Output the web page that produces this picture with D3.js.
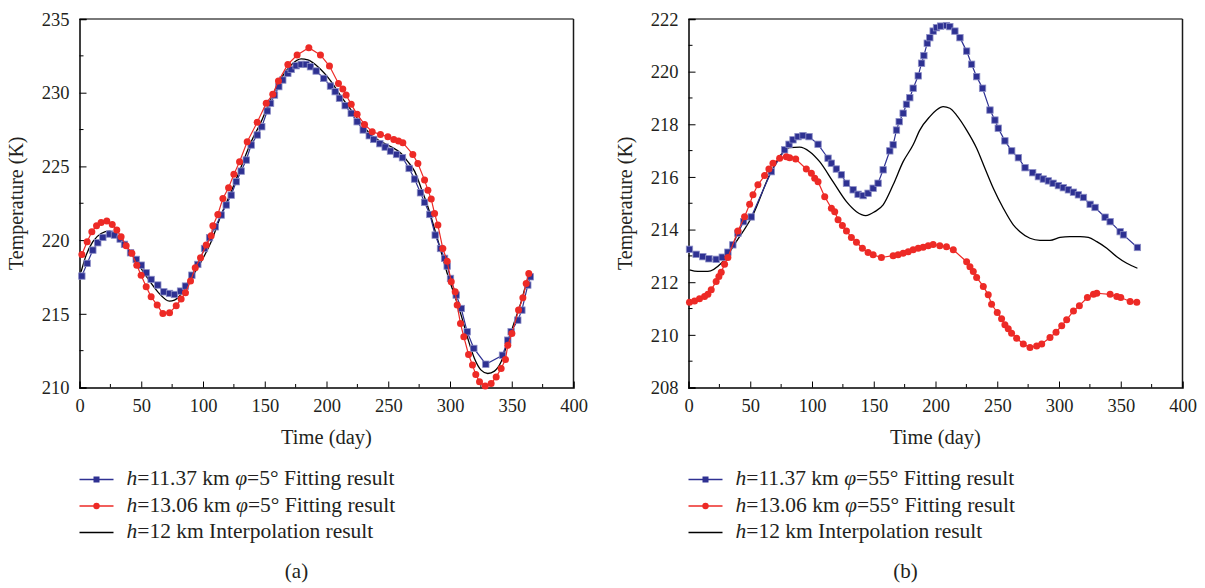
<!DOCTYPE html>
<html>
<head>
<meta charset="utf-8">
<script src="https://cdn.jsdelivr.net/npm/d3@7"></script>
<style>
  body { margin: 0; background: #fff; }
</style>
</head>
<body>
<svg id="chart" width="1205" height="588" font-family="'Liberation Serif', 'Times New Roman', serif"></svg>
<script>
// panel (a): phi = 5 deg, [day, K]
var aBlue = [[1.9,217.56],[6.2,218.42],[10.8,219.32],[14.8,219.82],[18.9,220.18],[24.3,220.41],[28.3,220.34],[32.9,220.07],[36.4,219.71],[41.3,219.14],[45.9,218.69],[50.0,218.30],[54.0,217.78],[58.0,217.33],[63.4,216.95],[68.3,216.49],[72.9,216.38],[76.9,216.31],[81.8,216.54],[85.8,216.88],[91.0,217.62],[95.8,218.35],[101.2,219.43],[105.3,220.16],[109.9,220.90],[114.7,221.70],[118.8,222.38],[122.8,223.05],[126.9,223.96],[130.9,224.68],[135.0,225.43],[139.0,226.45],[143.9,227.13],[147.6,227.69],[152.0,228.76],[154.7,229.28],[157.9,229.84],[161.4,230.41],[164.6,230.86],[168.7,231.31],[171.4,231.58],[175.4,231.83],[179.5,231.92],[183.5,231.92],[187.0,231.76],[191.6,231.47],[197.8,230.97],[203.2,230.45],[207.0,230.07],[210.5,229.62],[215.1,229.12],[220.0,228.60],[224.8,228.03],[229.7,227.47],[234.6,227.08],[238.3,226.83],[243.2,226.54],[247.5,226.31],[251.8,226.04],[256.7,225.81],[261.5,225.59],[266.9,224.86],[271.3,224.14],[276.1,223.21],[279.4,222.56],[283.7,221.74],[288.0,220.34],[292.3,219.43],[295.6,218.76],[297.7,218.24],[300.4,217.40],[305.0,216.27],[309.1,215.36],[313.9,213.78],[319.3,212.65],[329.0,211.58],[342.5,212.19],[346.8,213.21],[349.5,213.78],[354.9,214.57],[358.2,215.25],[363.0,216.95],[365.0,217.51]];
var aRed = [[1.9,219.03],[6.2,219.89],[10.0,220.57],[13.8,220.97],[17.5,221.20],[22.1,221.29],[26.5,221.06],[30.2,220.68],[33.7,220.23],[37.8,219.62],[42.4,219.10],[46.4,218.30],[49.9,217.62],[54.0,216.83],[58.0,216.15],[62.9,215.59],[67.5,215.02],[72.9,215.07],[78.3,215.54],[82.3,216.00],[85.8,216.43],[89.9,217.22],[93.7,218.12],[98.0,218.80],[102.6,219.66],[106.6,220.29],[108.0,220.97],[112.0,221.74],[116.1,222.83],[120.7,223.55],[125.0,224.46],[129.6,225.32],[135.8,226.67],[143.9,227.99],[151.2,229.28],[156.5,229.89],[161.1,230.79],[168.7,231.92],[176.2,232.56],[185.7,233.05],[195.1,232.56],[202.4,231.81],[209.7,230.63],[213.2,230.25],[215.9,229.84],[220.0,229.21],[224.8,228.53],[230.8,227.85],[237.0,227.35],[243.7,227.17],[249.7,227.01],[254.5,226.83],[258.3,226.72],[261.8,226.61],[269.9,225.81],[274.0,225.20],[279.4,224.07],[282.1,223.39],[284.8,222.78],[287.5,221.81],[290.2,221.02],[294.2,219.43],[297.7,218.57],[301.0,217.17],[304.2,216.49],[305.8,215.59],[308.5,214.34],[311.2,213.44],[315.0,212.24],[318.2,211.52],[320.9,210.88],[323.9,210.39],[328.5,210.11],[333.3,210.27],[337.4,210.72],[341.4,211.29],[344.9,211.90],[346.8,212.87],[350.1,213.67],[355.5,215.25],[359.0,216.09],[361.7,217.06],[363.8,217.74]];
var aBlack = [[1.3,217.85],[5.4,218.98],[10.8,219.89],[17.5,220.45],[24.3,220.61],[31.0,220.23],[39.1,219.43],[47.2,218.42],[55.3,217.40],[63.4,216.49],[72.9,215.86],[76.9,215.93],[83.7,216.49],[90.4,217.40],[98.5,218.53],[106.6,219.89],[114.7,221.70],[122.8,223.28],[130.9,224.98],[139.0,226.67],[147.1,228.03],[155.2,229.62],[163.3,230.97],[171.4,231.88],[179.5,232.29],[184.9,232.22],[193.0,231.76],[203.8,230.75],[211.9,229.73],[220.0,228.82],[228.1,227.92],[236.2,227.13],[244.3,226.67],[252.4,226.33],[260.5,225.88],[265.9,225.32],[271.3,224.68],[276.7,223.51],[282.1,222.26],[287.4,220.79],[292.8,219.21],[298.2,217.62],[303.6,216.27],[309.0,214.91],[314.4,213.33],[319.8,211.97],[325.2,211.18],[330.6,210.95],[336.0,211.11],[341.4,211.74],[346.8,213.10],[352.2,214.46],[357.6,215.81],[363.0,217.40],[365.2,217.85]];

// panel (b): phi = 55 deg
var bBlue = [[0.8,213.25],[6.2,213.06],[11.6,212.97],[16.5,212.89],[22.4,212.87],[27.3,212.95],[31.9,213.14],[35.9,213.42],[40.0,213.86],[44.6,214.30],[50.8,214.48],[67.0,216.20],[77.8,217.03],[81.4,217.24],[84.6,217.41],[88.7,217.53],[92.7,217.57],[97.6,217.53],[104.9,217.24],[113.0,216.71],[115.7,216.52],[119.7,216.30],[123.8,216.08],[127.9,215.76],[133.3,215.51],[137.3,215.34],[141.4,215.29],[145.4,215.38],[149.5,215.57],[153.5,215.76],[157.6,216.27],[163.0,216.99],[165.7,217.22],[168.4,217.78],[170.6,218.10],[173.8,218.42],[176.5,218.76],[179.2,219.01],[181.9,219.37],[186.0,219.84],[188.7,220.32],[190.6,220.61],[193.3,221.08],[195.4,221.29],[198.1,221.54],[200.8,221.67],[204.1,221.73],[208.9,221.75],[211.6,221.71],[215.7,221.54],[219.8,221.29],[225.2,220.78],[229.2,220.28],[233.3,219.81],[238.1,219.37],[244.1,218.54],[248.1,218.16],[250.8,217.85],[256.2,217.37],[261.7,216.99],[267.1,216.73],[272.5,216.35],[278.7,216.16],[283.3,216.01],[287.3,215.92],[291.4,215.85],[295.2,215.76],[299.5,215.67],[303.5,215.59],[307.6,215.51],[311.7,215.42],[315.7,215.32],[319.8,215.22],[325.2,214.96],[329.2,214.84],[337.3,214.47],[341.4,214.30],[349.5,213.92],[352.2,213.80],[363.5,213.32]];
var bRed = [[0.8,211.24],[4.9,211.29],[8.9,211.37],[13.0,211.46],[15.7,211.54],[18.4,211.71],[22.4,212.03],[24.6,212.22],[26.5,212.38],[29.2,212.68],[31.9,212.94],[40.0,213.95],[45.4,214.49],[49.5,214.96],[52.2,215.32],[56.2,215.70],[61.6,216.05],[65.1,216.30],[68.4,216.52],[73.8,216.71],[79.2,216.77],[81.9,216.73],[86.8,216.68],[95.4,216.30],[99.5,216.14],[102.2,215.95],[104.9,215.82],[110.3,215.25],[115.7,214.81],[118.4,214.68],[121.1,214.37],[124.6,214.15],[127.9,213.95],[131.9,213.70],[136.0,213.52],[140.8,213.29],[145.4,213.13],[149.5,213.04],[156.2,212.94],[165.7,213.01],[169.7,213.04],[173.8,213.10],[177.9,213.16],[181.9,213.23],[186.0,213.29],[190.0,213.33],[194.1,213.39],[198.1,213.43],[203.5,213.39],[208.9,213.35],[214.4,213.23],[225.2,212.78],[227.9,212.59],[230.6,212.41],[233.3,212.18],[238.7,211.84],[242.7,211.52],[245.4,211.16],[250.0,210.85],[253.5,210.61],[256.2,210.38],[258.9,210.23],[261.6,210.06],[265.7,209.87],[271.1,209.65],[276.5,209.52],[281.9,209.58],[286.0,209.65],[292.7,209.90],[297.6,210.10],[302.2,210.35],[306.2,210.57],[311.7,210.91],[316.5,211.11],[323.0,211.42],[327.9,211.54],[330.6,211.58],[341.4,211.54],[346.8,211.46],[350.0,211.42],[357.6,211.27],[363.0,211.24]];
var bBlack = [[0.8,212.47],[7.6,212.41],[15.7,212.41],[26.5,212.72],[38.7,213.54],[52.2,214.56],[65.7,216.08],[76.5,216.94],[81.9,217.11],[90.0,217.13],[98.1,216.96],[106.2,216.58],[117.0,215.82],[127.9,215.06],[136.0,214.68],[143.5,214.53],[150.8,214.68],[157.6,214.94],[165.7,215.70],[173.8,216.58],[181.9,217.22],[187.3,217.78],[195.4,218.29],[200.8,218.54],[206.2,218.67],[211.6,218.61],[217.0,218.35],[225.2,217.78],[233.3,217.09],[240.0,216.33],[246.8,215.57],[254.9,214.81],[263.0,214.18],[268.4,213.92],[276.5,213.67],[284.6,213.59],[292.7,213.59],[300.8,213.70],[308.9,213.73],[317.1,213.73],[323.8,213.70],[330.6,213.54],[338.7,213.29],[346.8,212.97],[354.9,212.72],[363.5,212.53]];

var xTicks = [0, 50, 100, 150, 200, 250, 300, 350, 400];
var aYTicks = [210, 215, 220, 225, 230, 235];
var bYTicks = [208, 210, 212, 214, 216, 218, 220, 222];
var aLegend = ['11.37 km ', '5° Fitting result', '13.06 km ', '5° Fitting result'];
var bLegend = ['11.37 km ', '55° Fitting result', '13.06 km ', '55° Fitting result'];

var blue = '#2e3192', red = '#ed2a26', ink = '#231f20';
var serif = "'Liberation Serif', 'Times New Roman', serif";
var svg = d3.select('#chart');

function panel(opt) {
    var x = d3.scaleLinear().domain([0, 400]).range([opt.left, opt.left + 494]);
    var y = d3.scaleLinear().domain(opt.yDomain).range([387.5, 19]);
    var g = svg.append('g');

    // frame
    g.append('line').attr('x1', x(0)).attr('x2', x(400)).attr('y1', 19).attr('y2', 19)
        .attr('stroke', '#4d4d4d').attr('stroke-width', 1.5);
    g.append('line').attr('x1', x(400)).attr('x2', x(400)).attr('y1', 19).attr('y2', 387.5)
        .attr('stroke', '#1a1a1a').attr('stroke-width', 1.5);

    // x axis, ticks pointing inwards
    var xAxis = d3.axisBottom(x).tickValues(xTicks).tickSize(-6).tickPadding(11).tickFormat(d3.format('d'));
    var gx = g.append('g').attr('transform', 'translate(0,387.5)').call(xAxis);
    gx.selectAll('.tick').filter(function(d) { return d === 0 || d === 400; }).select('line').remove();
    var xMinor = d3.range(25, 400, 50);
    gx.selectAll('.minor').data(xMinor).enter().append('line')
        .attr('x1', x).attr('x2', x).attr('y1', 0).attr('y2', -3.5).attr('stroke', '#000');

    var step = opt.yTicks[1] - opt.yTicks[0];
    var yAxis = d3.axisLeft(y).tickValues(opt.yTicks).tickSize(-7).tickPadding(10).tickFormat(d3.format('d'));
    var gy = g.append('g').attr('transform', 'translate(' + opt.left + ',0)').call(yAxis);
    var yMinor = d3.range(opt.yDomain[0] + step / 2, opt.yDomain[1], step);
    gy.selectAll('.minor').data(yMinor).enter().append('line')
        .attr('y1', y).attr('y2', y).attr('x1', 0).attr('x2', 4).attr('stroke', '#000');

    [gx, gy].forEach(function(a) {
        a.attr('font-family', serif).attr('font-size', 18.5);
        a.select('.domain').attr('stroke', '#000').attr('stroke-width', 1.5);
        a.selectAll('.tick line').attr('stroke', '#000');
        a.selectAll('text').attr('fill', ink);
    });
    gx.selectAll('.tick text').attr('dy', '0.71em');
    gy.selectAll('.tick text').attr('dy', '0.34em');

    // axis titles
    g.append('text').attr('x', x(200)).attr('y', 444).attr('text-anchor', 'middle')
        .attr('font-size', 20.5).attr('fill', ink).text('Time (day)');
    g.append('text').attr('transform', 'translate(' + (opt.left - 57) + ',' + y((opt.yDomain[0] + opt.yDomain[1]) / 2) + ') rotate(-90)')
        .attr('text-anchor', 'middle').attr('font-size', 20).attr('fill', ink).text('Temperature (K)');

    var line = d3.line().x(function(d) { return x(d[0]); }).y(function(d) { return y(d[1]); });
    var smooth = d3.line().curve(d3.curveMonotoneX).x(function(d) { return x(d[0]); }).y(function(d) { return y(d[1]); });

    // black interpolation line
    g.append('path').datum(opt.black).attr('d', smooth).attr('fill', 'none')
        .attr('stroke', '#000').attr('stroke-width', 1.3);

    // blue squares
    g.append('path').datum(opt.blue).attr('d', line).attr('fill', 'none')
        .attr('stroke', blue).attr('stroke-width', 1.2);
    g.selectAll('.sq').data(opt.blue).enter().append('rect')
        .attr('x', function(d) { return x(d[0]) - 3.2; })
        .attr('y', function(d) { return y(d[1]) - 3.2; })
        .attr('width', 6.4).attr('height', 6.4)
        .attr('fill', blue).attr('stroke', '#8c8ec6').attr('stroke-width', 0.8);

    // red circles
    g.append('path').datum(opt.red).attr('d', line).attr('fill', 'none')
        .attr('stroke', red).attr('stroke-width', 1.2);
    g.selectAll('.ci').data(opt.red).enter().append('circle')
        .attr('cx', function(d) { return x(d[0]); })
        .attr('cy', function(d) { return y(d[1]); })
        .attr('r', 3.5).attr('fill', red);

    // legend
    var lx = opt.left, ty = [485, 511.5, 538];
    var rows = [
        { color: blue, mark: 'square', txt: [opt.legend[0], opt.legend[1]] },
        { color: red, mark: 'circle', txt: [opt.legend[2], opt.legend[3]] },
        { color: '#000', mark: null, txt: null }
    ];
    rows.forEach(function(r, i) {
        var cy = ty[i] - 5.5;
        g.append('line').attr('x1', lx).attr('x2', lx + 34).attr('y1', cy).attr('y2', cy)
            .attr('stroke', r.color).attr('stroke-width', 1.3);
        if (r.mark === 'square') {
            g.append('rect').attr('x', lx + 14).attr('y', cy - 3).attr('width', 6).attr('height', 6).attr('fill', r.color);
        } else if (r.mark === 'circle') {
            g.append('circle').attr('cx', lx + 17).attr('cy', cy).attr('r', 3.2).attr('fill', r.color);
        }
        var t = g.append('text').attr('x', lx + 47).attr('y', ty[i]).attr('font-size', 21.5).attr('fill', ink);
        t.append('tspan').attr('font-style', 'italic').text('h');
        if (r.txt) {
            t.append('tspan').text('=' + r.txt[0]);
            t.append('tspan').attr('font-style', 'italic').text('φ');
            t.append('tspan').text('=' + r.txt[1]);
        } else {
            t.append('tspan').text('=12 km Interpolation result');
        }
    });

    g.append('text').attr('x', opt.left + 217).attr('y', 578).attr('text-anchor', 'middle')
        .attr('font-size', 21).attr('fill', ink).text(opt.tag);
}

panel({ left: 79.5, yDomain: [210, 235], yTicks: aYTicks, blue: aBlue, red: aRed, black: aBlack, legend: aLegend, tag: '(a)' });
panel({ left: 688.5, yDomain: [208, 222], yTicks: bYTicks, blue: bBlue, red: bRed, black: bBlack, legend: bLegend, tag: '(b)' });
</script>
</body>
</html>
